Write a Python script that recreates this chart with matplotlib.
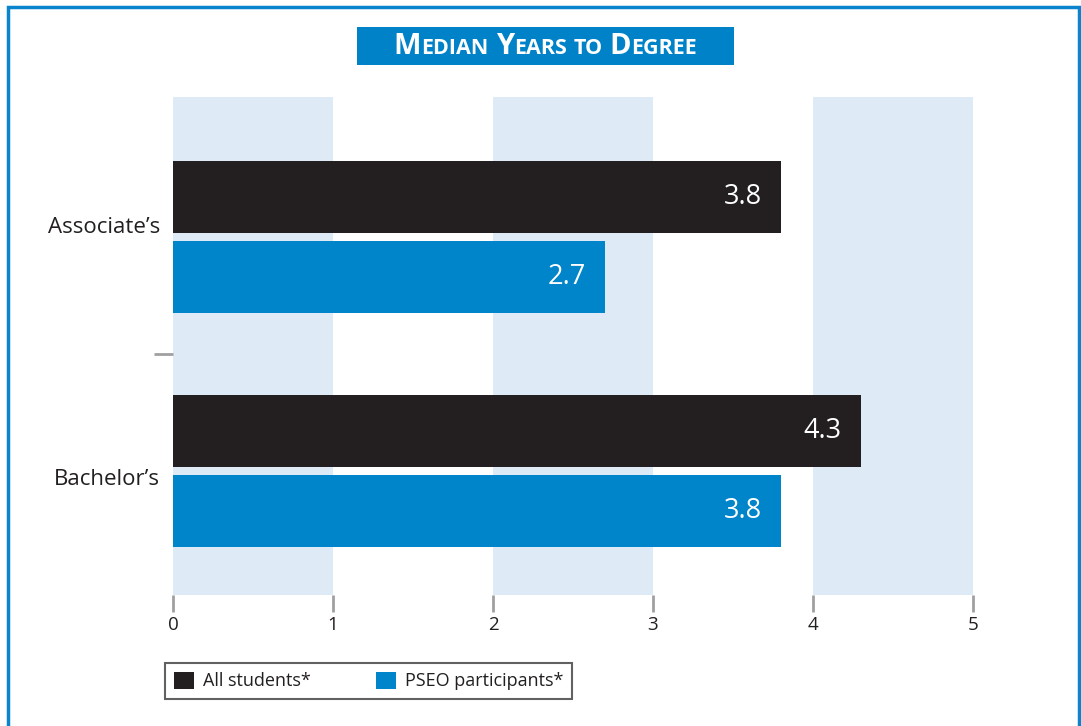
import matplotlib.pyplot as plt
from matplotlib.patches import Rectangle
import numpy as np

plt.rcParams['font.family'] = ['Open Sans', 'DejaVu Sans']

degrees = ["Associate\u2019s", "Bachelor\u2019s"]
all_students = [3.8, 4.3]
pseo_participants = [2.7, 3.8]
series_names = ["All students*", "PSEO participants*"]
x_ticks = [0, 1, 2, 3, 4, 5]

BLACK = '#231f20'
BLUE = '#0084ca'
BAND = '#deeaf6'
FRAME = '#0a84cc'

W, H = 1081, 726
fig = plt.figure(figsize=(W / 100, H / 100), dpi=100)


def fx(px):
    return px / W


def fy(py):
    return 1 - py / H


# outer frame, open at the bottom
fig.patches.append(Rectangle((fx(8), fy(760)), fx(1071), (760 - 7) / H,
                             transform=fig.transFigure, fill=False,
                             edgecolor=FRAME, linewidth=2.5))

ax = fig.add_axes([fx(173), fy(595), fx(800), (595 - 97) / H])
ax.set_xlim(0, 5)
ax.set_ylim(1.53, -0.6)

# shaded columns behind the bars
for lo in (0, 2, 4):
    ax.axvspan(lo, lo + 1, color=BAND, zorder=0, lw=0)

y = np.arange(len(degrees))
h = 0.308
off = 0.171
b1 = ax.barh(y - off, all_students, height=h, color=BLACK, label=series_names[0], zorder=2)
b2 = ax.barh(y + off, pseo_participants, height=h, color=BLUE, label=series_names[1], zorder=2)

for bars, vals in ((b1, all_students), (b2, pseo_participants)):
    for rect, v in zip(bars, vals):
        ax.text(v - 0.12, rect.get_y() + rect.get_height() / 2, f"{v:.1f}",
                ha='right', va='center', color='white', fontsize=19.5, zorder=3)

for side in ('top', 'right', 'left', 'bottom'):
    ax.spines[side].set_visible(False)

ax.set_xticks(x_ticks)
ax.set_xticklabels([str(t) for t in x_ticks], fontsize=13.5, color='#231f20')
ax.tick_params(axis='x', length=12, width=2, color='#a0a0a0', pad=3)

# separator tick between the two groups
ax.set_yticks([0.5])
ax.set_yticklabels([''])
ax.tick_params(axis='y', length=14, width=2, color='#a0a0a0', pad=0)

label_shift = [-0.04, 0.035]
for i, name in enumerate(degrees):
    ax.text(-0.08, i + label_shift[i], name, ha='right', va='center',
            fontsize=16, color='#231f20')

# title box with small-caps lettering
fig.patches.append(Rectangle((fx(357), fy(65)), fx(377), 38 / H,
                             transform=fig.transFigure, color='#0082c8', lw=0))
title_words = ["Median", "Years", "to", "Degree"]
pieces = []
for k, word in enumerate(title_words):
    gap = 0 if k == 0 else 7
    if word[0].isupper():
        pieces.append((word[0], 21, gap))
        pieces.append((word[1:].upper(), 15.5, 0))
    else:
        pieces.append((word.upper(), 15.5, gap))

fig.canvas.draw()
renderer = fig.canvas.get_renderer()
texts = []
xpos = 0.0
for s, size, gap in pieces:
    xpos += gap
    t = fig.text(0, fy(54), s, fontsize=size, fontweight='bold', color='white',
                 va='baseline', ha='left')
    w = t.get_window_extent(renderer).width
    texts.append((t, xpos))
    xpos += w
start = (357 + 734) / 2 - xpos / 2
for t, px in texts:
    t.set_x(fx(start + px))

leg = fig.legend(handles=[b1, b2], loc='center',
                 bbox_to_anchor=(fx((165 + 572) / 2), fy(681)), ncol=2,
                 frameon=True, fancybox=False, edgecolor='#3a3a3a',
                 fontsize=13, handlelength=1.1, handleheight=1.1,
                 handletextpad=0.5, columnspacing=3.6, borderpad=0.5,
                 labelcolor='#231f20')
leg.get_frame().set_linewidth(1.5)

fig.savefig('out.png', dpi=100)
